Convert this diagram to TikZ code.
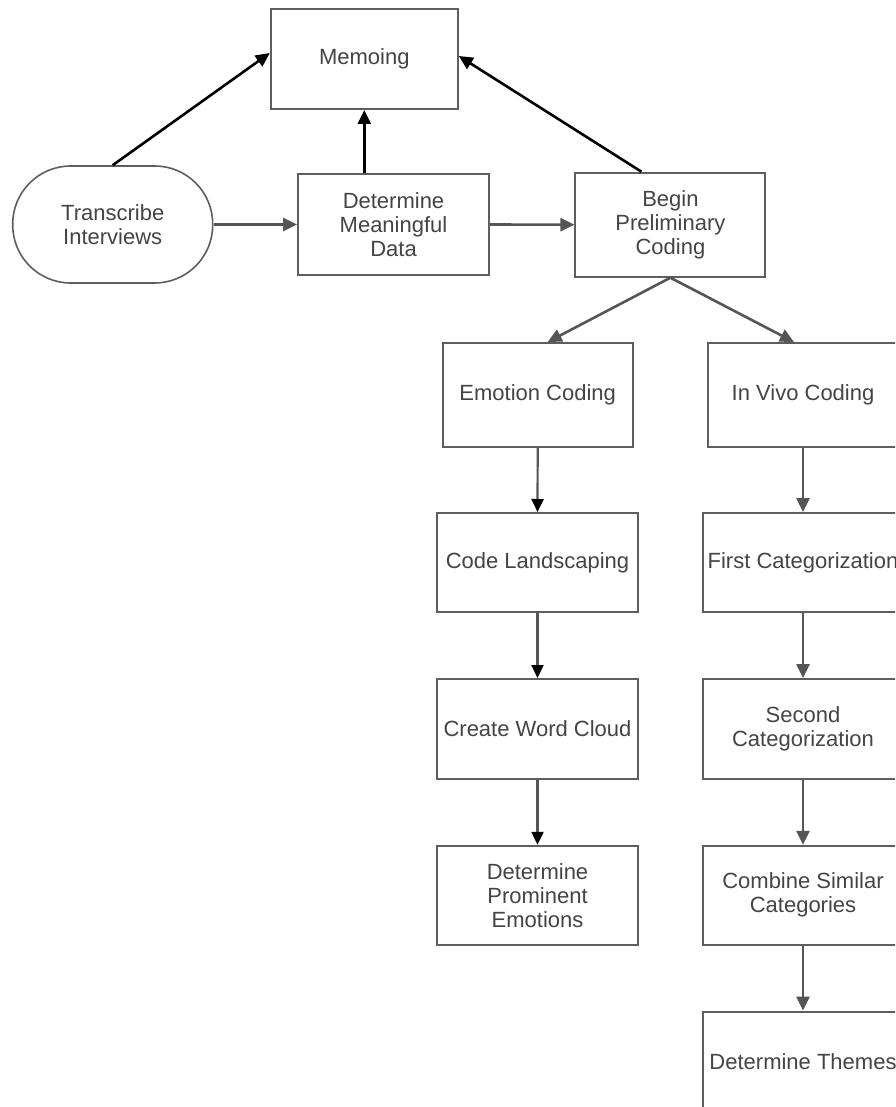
\documentclass[tikz,border=0pt]{standalone}
\usepackage{fontspec}
\setmainfont{Liberation Sans}
\usetikzlibrary{arrows.meta}
\definecolor{boxline}{HTML}{5E5E5E}
\definecolor{arrline}{HTML}{555555}
\definecolor{txt}{HTML}{444444}
\tikzset{
  box/.style={draw=boxline, line width=2pt, fill=white, minimum width=#1, inner sep=0pt,
    align=center, text=txt, font=\fontsize{22}{24}\selectfont},
  stadium/.style={draw=boxline, line width=1.6pt, fill=white, rounded corners=58pt,
    inner sep=0pt, align=center, text=txt, font=\fontsize{22}{24}\selectfont},
  blk/.style={draw=black, line width=2.6pt, -{Triangle[length=14pt,width=13pt]}},
  gry/.style={draw=arrline, line width=2.6pt, -{Triangle[length=14pt,width=13pt,fill=arrline]}},
  gryb/.style={draw=arrline, line width=2.2pt, -{Triangle[length=13pt,width=12pt,color=black]}},
}
\begin{document}
\begin{tikzpicture}[x=1pt, y={(0pt,-1pt)}]
\useasboundingbox (0,0) rectangle (895,1107);
\clip (0,0) rectangle (895,1107);
\fill[white] (0,0) rectangle (895,1107);
% nodes
\node[box=187pt, minimum height=100pt] (memo) at (364.3,59) {Memoing};
\node[stadium, minimum width=200pt, minimum height=117pt] (trans) at (112.7,224.5) {Transcribe\\Interviews};
\node[box=191pt, minimum height=101pt] (dmd) at (393.5,224.5) {Determine\\Meaningful\\Data};
\node[box=190pt, minimum height=104pt] (begin) at (670.4,224.7) {Begin\\Preliminary\\Coding};
\node[box=190pt, minimum height=104pt] (emo) at (537.7,395) {Emotion Coding};
\node[box=190pt, minimum height=104pt] (vivo) at (803,395) {In Vivo Coding};
\node[box=201pt, minimum height=99pt] (land) at (537.5,562.5) {Code Landscaping};
\node[box=200pt, minimum height=99pt] (first) at (803,562.5) {First Categorization};
\node[box=201pt, minimum height=100pt] (cloud) at (537.5,729) {Create Word Cloud};
\node[box=200pt, minimum height=100pt] (second) at (803,729) {Second\\Categorization};
\node[box=201pt, minimum height=99pt] (prom) at (537.5,895.3) {Determine\\Prominent\\Emotions};
\node[box=200pt, minimum height=99pt] (comb) at (803,895.3) {Combine Similar\\Categories};
\node[box=200pt, minimum height=100pt] (themes) at (803,1061.5) {Determine Themes};
% connectors
\draw[blk] (trans.north) -- ([yshift=6pt]memo.west);
\draw[blk] (memo.south |- dmd.north) -- (memo.south);
\draw[blk] ([xshift=-29pt]begin.north) -- ([yshift=3pt]memo.east);
\draw[gry] (trans.east) -- (dmd.west);
\draw[gry] (dmd.east) -- (begin.west);
\draw[gry] (begin.south) -- ([xshift=10pt]emo.north);
\draw[gry] (begin.south) -- ([xshift=-9pt]vivo.north);
\draw[gryb] (emo.south) -- (land.north);
\draw[gryb] (land.south) -- (cloud.north);
\draw[gryb] (cloud.south) -- (prom.north);
\draw[gry] (vivo.south) -- (first.north);
\draw[gry] (first.south) -- (second.north);
\draw[gry] (second.south) -- (comb.north);
\draw[gry] (comb.south) -- (themes.north);
\end{tikzpicture}
\end{document}
